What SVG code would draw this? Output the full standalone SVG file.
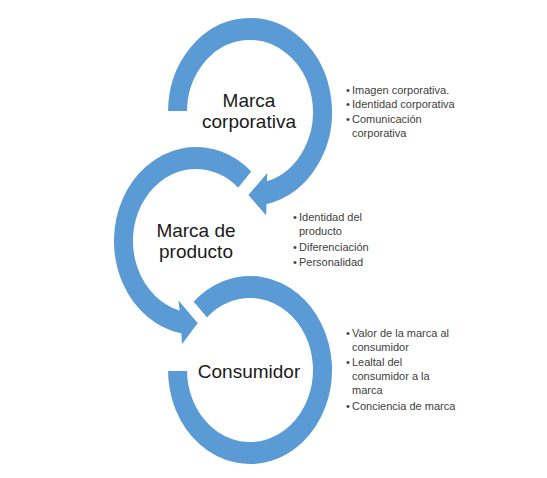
<svg xmlns="http://www.w3.org/2000/svg" width="547" height="478" viewBox="0 0 547 478">
<style>
.ring{fill:#5B9BD5;stroke:#fff;stroke-width:2;stroke-linejoin:miter}
.big{font-family:"Liberation Sans",Arial,sans-serif;font-size:19px;fill:#1a1a1a;text-anchor:middle}
.sm{font-family:"Liberation Sans",Arial,sans-serif;font-size:11px;fill:#404040}
</style>
<rect width="547" height="478" fill="#fff"/>
<g id="connectors"></g>
<g id="consumidor">
<path class="ring" transform="translate(250,370) scale(1,1.145)" style="vector-effect:non-scaling-stroke" d="M -57.66 -59.7 A 83 83 0 1 1 -83 0 L -62 0 A 62 62 0 1 0 -43.07 -44.6 Z"/>
<text class="big" x="249" y="378">Consumidor</text>
</g>
<g id="marca-producto">
<path class="ring" d="M 252.6 171.5 A 83 95 0 1 0 180.5 334.3 L 181 347 L 199 323 L 177 297 L 178.5 309.1 A 62 71 0 1 1 238.3 189.1 Z"/>
<text class="big" x="196" y="237">Marca de</text>
<text class="big" x="196" y="258">producto</text>
</g>
<g id="marca-corporativa">
<path class="ring" d="M 167 112 A 83 95 0 1 1 267.5 204.9 L 267 218 L 247 195 L 268.5 170 L 268 179.9 A 62 71 0 1 0 188 112 Z"/>
<text class="big" x="249" y="107">Marca</text>
<text class="big" x="249" y="128">corporativa</text>
</g>
<g id="lista-corporativa" class="sm">
<text x="346" y="94">•</text><text x="352" y="94">Imagen corporativa.</text>
<text x="346" y="108">•</text><text x="352" y="108">Identidad corporativa</text>
<text x="346" y="123">•</text><text x="352" y="123">Comunicación</text>
<text x="352" y="137">corporativa</text>
</g>
<g id="lista-producto" class="sm">
<text x="293" y="221">•</text><text x="299" y="221">Identidad del</text>
<text x="299" y="235">producto</text>
<text x="293" y="251">•</text><text x="299" y="251">Diferenciación</text>
<text x="293" y="266">•</text><text x="299" y="266">Personalidad</text>
</g>
<g id="lista-consumidor" class="sm">
<text x="346" y="337">•</text><text x="352" y="337">Valor de la marca al</text>
<text x="352" y="351">consumidor</text>
<text x="346" y="366">•</text><text x="352" y="366">Lealtal del</text>
<text x="352" y="380">consumidor a la</text>
<text x="352" y="394">marca</text>
<text x="346" y="410">•</text><text x="352" y="410">Conciencia de marca</text>
</g>
</svg>
